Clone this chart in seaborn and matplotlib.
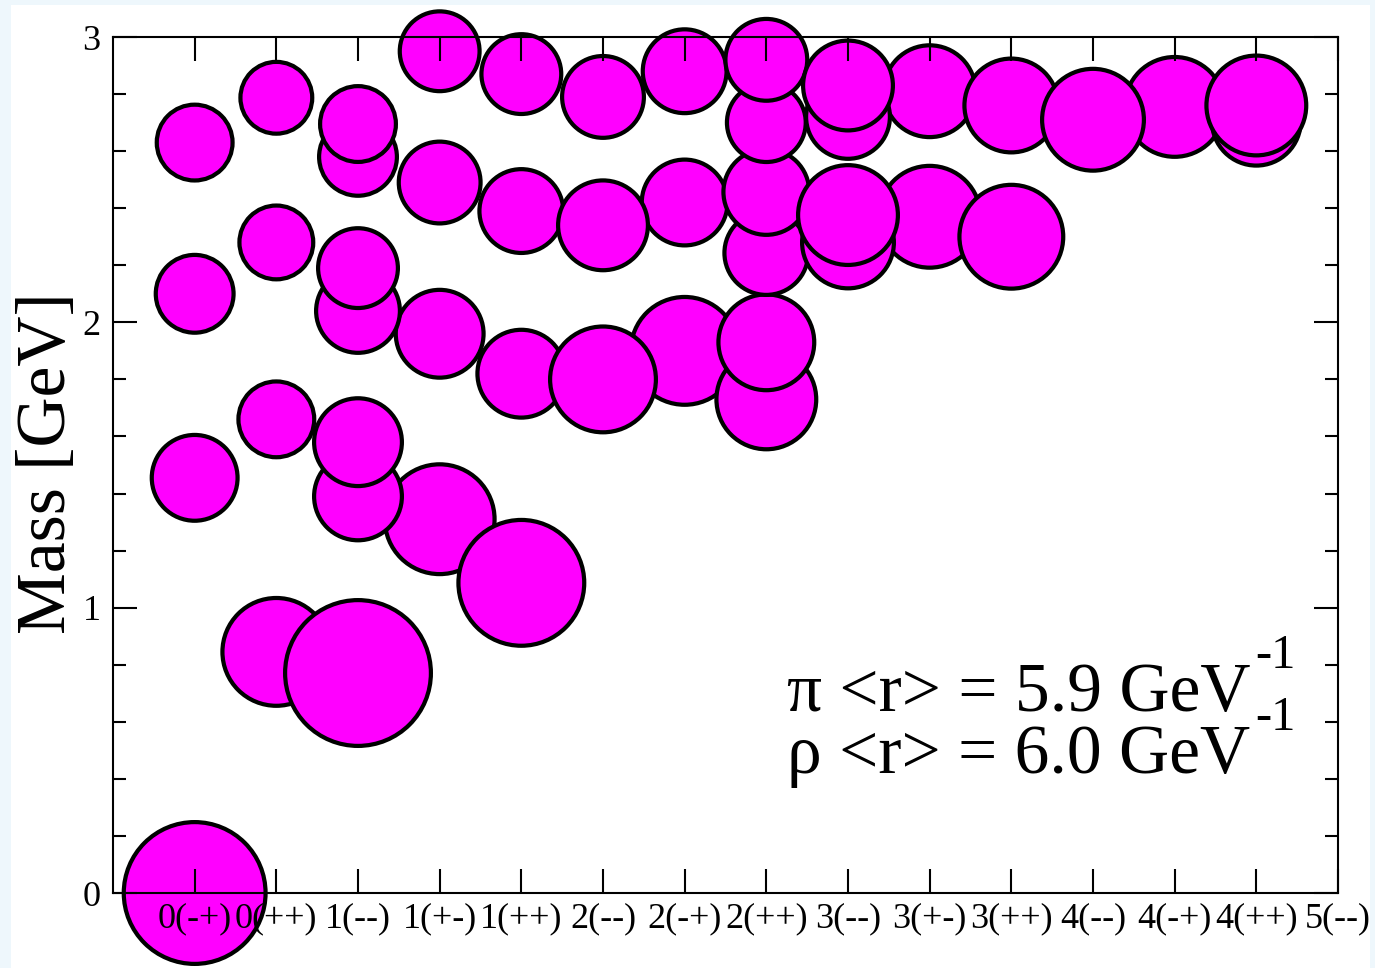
import numpy as np
import pandas as pd
import matplotlib
matplotlib.use("Agg")
import matplotlib.pyplot as plt
import seaborn as sns
from matplotlib.patches import Rectangle
from matplotlib.ticker import MultipleLocator, NullLocator

# ---------------- data ----------------
channels = ["0(-+)", "0(++)", "1(--)", "1(+-)", "1(++)", "2(--)", "2(-+)", "2(++)",
            "3(--)", "3(+-)", "3(++)", "4(--)", "4(-+)", "4(++)", "5(--)"]

# states listed in drawing order (-+, +-, ++, -- groups), mass in GeV,
# radius = relative wave-function size (arbitrary units)
state_channel = [
    "0(-+)", "0(-+)", "0(-+)", "0(-+)",
    "2(-+)", "2(-+)", "2(-+)",
    "4(-+)",
    "1(+-)", "1(+-)", "1(+-)", "1(+-)",
    "3(+-)", "3(+-)",
    "0(++)", "0(++)", "0(++)", "0(++)",
    "1(++)", "1(++)", "1(++)", "1(++)",
    "2(++)", "2(++)", "2(++)", "2(++)", "2(++)", "2(++)",
    "3(++)", "3(++)",
    "4(++)", "4(++)",
    "1(--)", "1(--)", "1(--)", "1(--)", "1(--)", "1(--)", "1(--)",
    "2(--)", "2(--)", "2(--)",
    "3(--)", "3(--)", "3(--)", "3(--)",
    "4(--)",
]
state_mass = [
    0.00, 1.455, 2.10, 2.63,
    1.90, 2.42, 2.88,
    2.755,
    1.31, 1.96, 2.49, 2.95,
    2.37, 2.81,
    0.845, 1.66, 2.28, 2.787,
    1.087, 1.82, 2.39, 2.87,
    1.73, 1.93, 2.243, 2.457, 2.70, 2.92,
    2.30, 2.76,
    2.705, 2.76,
    0.771, 1.39, 1.58, 2.04, 2.19, 2.58, 2.695,
    1.80, 2.34, 2.79,
    2.28, 2.376, 2.72, 2.83,
    2.71,
]
state_radius = [
    7.3, 4.5, 4.1, 4.0,
    5.6, 4.5, 4.4,
    5.2,
    5.7, 4.6, 4.3, 4.2,
    5.3, 4.8,
    5.6, 4.0, 3.9, 3.8,
    6.5, 4.6, 4.4, 4.2,
    5.2, 5.0, 4.4, 4.5, 4.15, 4.3,
    5.4, 4.9,
    4.65, 5.2,
    7.5, 4.6, 4.6, 4.4, 4.2, 4.1, 4.0,
    5.5, 4.7, 4.3,
    4.8, 5.2, 4.4, 4.7,
    5.3,
]

pi_text = "π <r> = 5.9 GeV"
rho_text = "ρ <r> = 6.0 GeV"
exponent = "-1"
ylabel = "Mass [GeV]"

# ---------------- style ----------------
sns.set_style("ticks")
plt.rcParams['font.family'] = ['Liberation Serif', 'DejaVu Serif']
plt.rcParams['text.color'] = 'black'
plt.rcParams['axes.labelcolor'] = 'black'
plt.rcParams['xtick.color'] = 'black'
plt.rcParams['ytick.color'] = 'black'

DPI = 100
W, H = 1375, 968
EDGE_PX = 4.2
UNIT_PX = 10.0

df = pd.DataFrame({"channel": state_channel, "mass": state_mass, "radius": state_radius})
df["pos"] = [channels.index(c) for c in df["channel"]]
df["area"] = (2 * (df["radius"] * UNIT_PX - EDGE_PX / 2) * 72 / DPI) ** 2
amax = df["area"].max()

fig = plt.figure(figsize=(W / DPI, H / DPI), dpi=DPI, facecolor="#eef7fc")
fig.patches.append(Rectangle((11 / W, 0), (1370 - 11) / W, 1 - 5 / H,
                             transform=fig.transFigure, facecolor="white",
                             edgecolor="none", zorder=-10))
ax = fig.add_axes([113 / W, 75 / H, 1225 / W, 856 / H])
ax.set_facecolor("white")

sns.scatterplot(data=df, x="pos", y="mass", size="area", sizes=(0, amax),
                size_norm=(0, amax), color="#ff00ff", edgecolor="black",
                linewidth=EDGE_PX * 72 / DPI, legend=False, clip_on=False,
                ax=ax, zorder=1)

ax.set_xlim(-1, 14)
ax.set_ylim(0, 3)
ax.set_xticks(range(len(channels)))
ax.set_xticklabels(channels)
ax.set_yticks([0, 1, 2, 3])
ax.set_yticklabels(["0", "1", "2", "3"])
ax.yaxis.set_minor_locator(MultipleLocator(0.2))
ax.xaxis.set_minor_locator(NullLocator())
ax.set_axisbelow(False)

ax.tick_params(which="both", direction="in", top=True, right=True,
               width=1.5, colors="black", labelsize=26, labelcolor="black")
ax.tick_params(which="major", length=17.3)
ax.tick_params(which="minor", length=9.4)
ax.tick_params(axis="x", pad=7)
ax.tick_params(axis="y", pad=9)
for sp in ax.spines.values():
    sp.set_visible(True)
    sp.set_color("black")
    sp.set_linewidth(1.5)

ax.set_xlabel("")
ax.set_ylabel(ylabel, fontsize=50, color="black")
ax.yaxis.set_label_coords(-0.027, 0.502)

t1 = fig.text(787 / W, 1 - 711 / H, pi_text, fontsize=50, va="baseline",
              ha="left", color="black")
t2 = fig.text(787 / W, 1 - 773 / H, rho_text, fontsize=50, va="baseline",
              ha="left", color="black")
ax.annotate(exponent, xy=(1, 1 - 668 / H), xycoords=(t1, "figure fraction"),
            xytext=(5, 0), textcoords="offset pixels", fontsize=35,
            va="baseline", ha="left", color="black")
ax.annotate(exponent, xy=(1, 1 - 730 / H), xycoords=(t2, "figure fraction"),
            xytext=(5, 0), textcoords="offset pixels", fontsize=35,
            va="baseline", ha="left", color="black")

fig.savefig("out.png", dpi=DPI, facecolor=fig.get_facecolor())
